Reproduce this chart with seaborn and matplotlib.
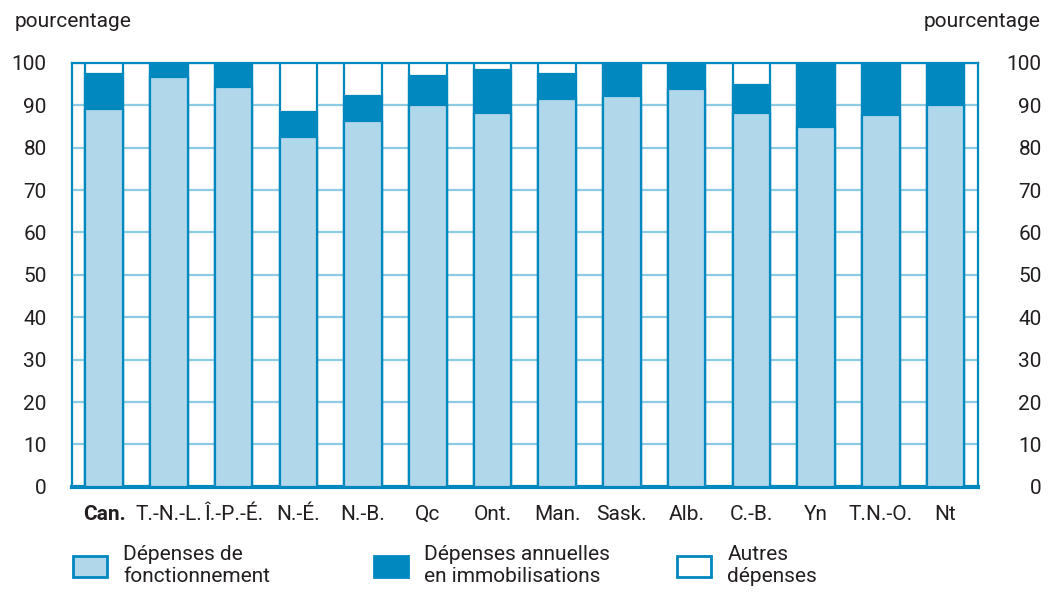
import pandas as pd
import seaborn as sns
import matplotlib.pyplot as plt
from matplotlib.patches import Patch

# ---------------------------------------
# Data (percent of total expenditure)
# ---------------------------------------
provinces = ["Can.", "T.-N.-L.", "Î.-P.-É.", "N.-É.", "N.-B.", "Qc", "Ont.",
             "Man.", "Sask.", "Alb.", "C.-B.", "Yn", "T.N.-O.", "Nt"]
fonctionnement = [89.2, 96.6, 94.2, 82.5, 86.3, 90.0, 88.2,
                  91.4, 92.3, 93.8, 88.1, 84.8, 87.7, 90.0]
immobilisations = [8.2, 3.4, 5.8, 6.0, 6.0, 7.0, 10.2,
                   6.0, 7.7, 6.2, 6.6, 15.2, 12.3, 10.0]
autres = [100 - f - i for f, i in zip(fonctionnement, immobilisations)]
y_ticks = list(range(0, 101, 10))

df = pd.DataFrame({
    "province": provinces,
    "fonct": fonctionnement,
    "immo": immobilisations,
    "autres": autres,
})
df["top_immo"] = df["fonct"] + df["immo"]
df["top_all"] = df["top_immo"] + df["autres"]

# ---------------------------------------
# Style
# ---------------------------------------
sns.set_theme(style="white")
plt.rcParams["font.family"] = ["Roboto", "DejaVu Sans"]
TXT = "#231f20"
BLUE = "#0088bf"
LIGHT = "#b0d8ea"
GRID = "#8ccbe3"
FS = 15

fig = plt.figure(figsize=(10.56, 5.93), dpi=100)
ax = fig.add_axes([0.068, 0.179, 0.858, 0.715])

# stacked bars: draw cumulative totals back to front
bar_kw = dict(x="province", order=provinces, width=0.58, edgecolor=BLUE,
              linewidth=1.6, ax=ax, zorder=3)
sns.barplot(data=df, y="top_all", color="white", saturation=1, **bar_kw)
sns.barplot(data=df, y="top_immo", color=BLUE, saturation=1, **bar_kw)
sns.barplot(data=df, y="fonct", color=LIGHT, saturation=1, **bar_kw)

ax.set_xlim(-0.5, 13.5)
ax.set_ylim(0, 100)
ax.set_yticks(y_ticks)
ax.yaxis.grid(True, color=GRID, linewidth=1.6, zorder=0)
ax.set_axisbelow(True)
ax.set_xlabel("")
ax.set_ylabel("")
for side in ["top", "left", "right"]:
    ax.spines[side].set_color(BLUE)
    ax.spines[side].set_linewidth(1.6)
ax.spines["bottom"].set_color(BLUE)
ax.spines["bottom"].set_linewidth(3)

ax.tick_params(axis="both", length=0, labelsize=FS, labelcolor=TXT)
ax.tick_params(axis="y", pad=18)
ax.tick_params(axis="x", pad=13)
for lbl in ax.get_xticklabels():
    if lbl.get_text() == "Can.":
        lbl.set_fontweight("bold")

# right-hand scale
ax2 = ax.twinx()
ax2.set_ylim(0, 100)
ax2.set_yticks(y_ticks)
ax2.tick_params(axis="y", length=0, labelsize=FS, labelcolor=TXT, pad=46)
for lbl in ax2.get_yticklabels():
    lbl.set_horizontalalignment("right")
for side in ax2.spines:
    ax2.spines[side].set_visible(False)
ax2.grid(False)

fig.text(0.014, 0.963, "pourcentage", fontsize=FS, color=TXT, va="center")
fig.text(0.985, 0.963, "pourcentage", fontsize=FS, color=TXT, va="center", ha="right")

# ---------------------------------------
# Legend (three separate entries)
# ---------------------------------------
entries = [
    ("Dépenses de\nfonctionnement", LIGHT, 0.0516),
    ("Dépenses annuelles\nen immobilisations", BLUE, 0.3366),
    ("Autres\ndépenses", "white", 0.6236),
]
for label, fc, x0 in entries:
    h = Patch(facecolor=fc, edgecolor=BLUE, linewidth=2, label=label)
    fig.legend(handles=[h], loc="center left", bbox_to_anchor=(x0, 0.046),
               frameon=False, fontsize=FS, handlelength=1.6, handleheight=1.2,
               handletextpad=0.8, labelcolor=TXT, labelspacing=0)

fig.savefig("out.png", dpi=100)
